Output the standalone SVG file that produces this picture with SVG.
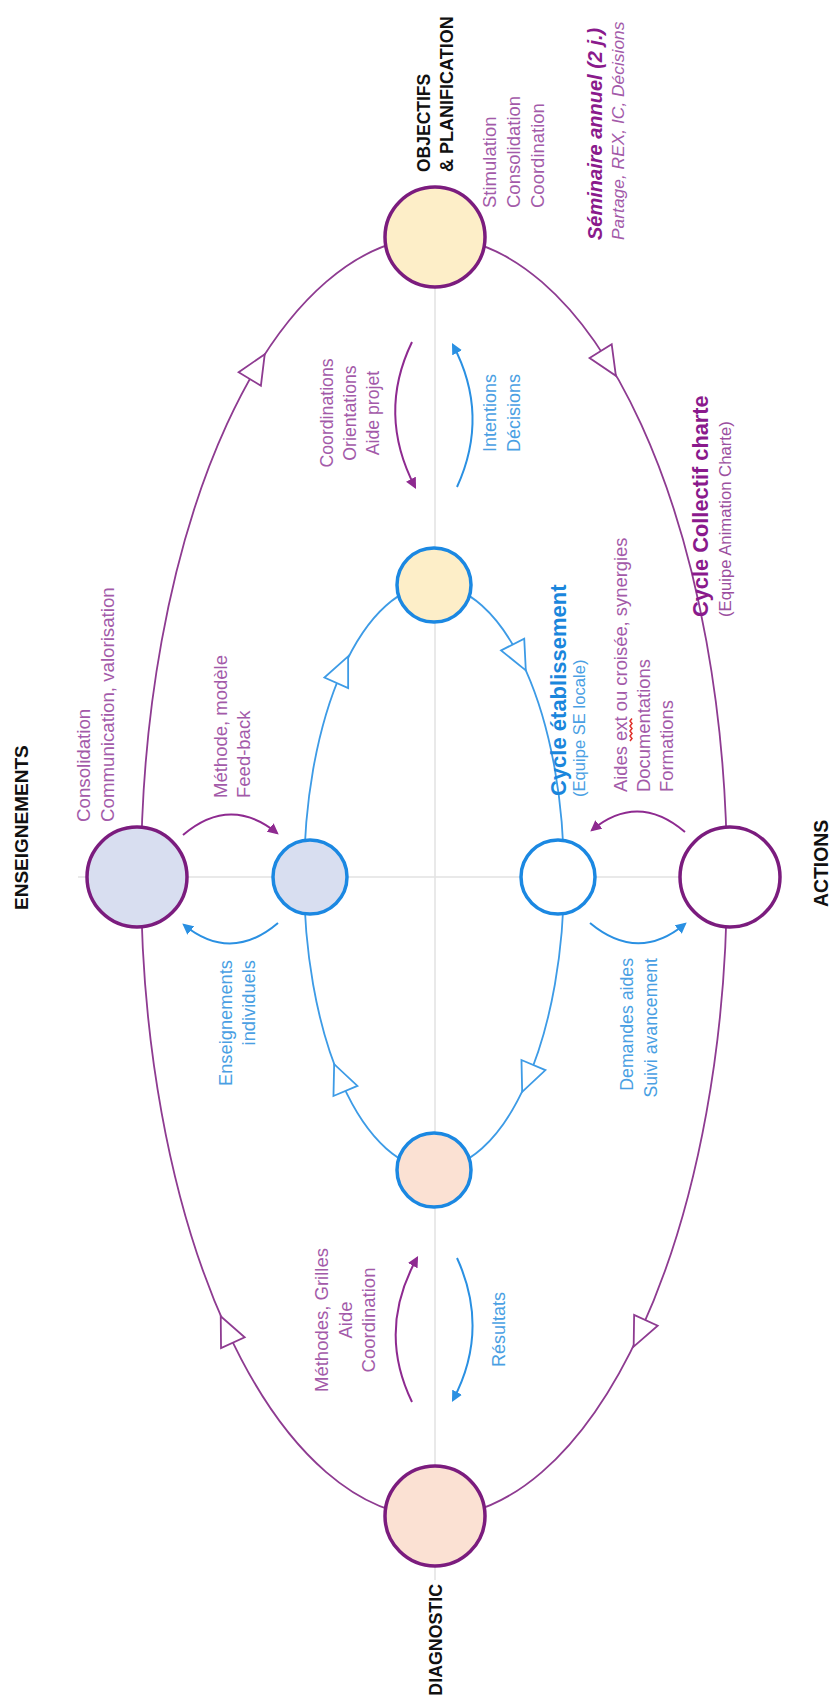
<svg xmlns="http://www.w3.org/2000/svg" width="830" height="1702" viewBox="0 0 830 1702">
<style>
text{font-family:"Liberation Sans",Arial,sans-serif}
.lbl{font-weight:bold;fill:#111}
.pt{fill:#a35aa9}
.bt{fill:#4a9fe3}
.axis{stroke:#e2e2e2;stroke-width:1.5;fill:none}
.oell{fill:none;stroke:#8e3b91;stroke-width:1.8}
.iell{fill:none;stroke:#3d9be6;stroke-width:1.8}
.otri{fill:#fff;stroke:#8e3b91;stroke-width:1.8}
.itri{fill:#fff;stroke:#3d9be6;stroke-width:1.8}
.pa{fill:none;stroke:#8e2a90;stroke-width:2;marker-end:url(#hp)}
.ba{fill:none;stroke:#2a90e2;stroke-width:2;marker-end:url(#hb)}
.oc{stroke:#7b1c7e;stroke-width:3.5}
.ic{stroke:#1b88e2;stroke-width:3.5}
</style>
<defs>
<marker id="hp" viewBox="0 0 10 10" refX="8" refY="5" markerWidth="11" markerHeight="11" markerUnits="userSpaceOnUse" orient="auto"><path d="M0,0 L10,5 L0,10 z" fill="#8e2a90"/></marker>
<marker id="hb" viewBox="0 0 10 10" refX="8" refY="5" markerWidth="11" markerHeight="11" markerUnits="userSpaceOnUse" orient="auto"><path d="M0,0 L10,5 L0,10 z" fill="#2a90e2"/></marker>
<polygon id="tri" points="15,0 -14,-13 -14,13"/>
</defs>
<rect width="830" height="1702" fill="#fff"/>
<g id="axes">
<line class="axis" x1="78" y1="877" x2="682" y2="877"/>
<line class="axis" x1="435" y1="237" x2="435" y2="1580"/>
</g>
<g id="connectors">
<ellipse class="oell" cx="434" cy="877" rx="293" ry="640"/>
<ellipse class="iell" cx="434" cy="877" rx="130" ry="292"/>
<use href="#tri" class="otri" transform="translate(608,363) rotate(58.3)"/>
<use href="#tri" class="otri" transform="translate(640,1333) rotate(115)"/>
<use href="#tri" class="otri" transform="translate(227,1330) rotate(-114.7)"/>
<use href="#tri" class="otri" transform="translate(257,367) rotate(-58.9)"/>
<use href="#tri" class="itri" transform="translate(519,657) rotate(63)"/>
<use href="#tri" class="itri" transform="translate(528,1078) rotate(112.9)"/>
<use href="#tri" class="itri" transform="translate(340,1078) rotate(-112.9)"/>
<use href="#tri" class="itri" transform="translate(342,670) rotate(-65.9)"/>
<path class="pa" d="M412,342 Q377,414 415,487"/>
<path class="ba" d="M457,487 Q490,415 453,345"/>
<path class="pa" d="M412,1402 Q377,1330 417,1258"/>
<path class="ba" d="M457,1258 Q490,1330 453,1400"/>
<path class="pa" d="M685,832 Q638,792 592,830"/>
<path class="ba" d="M590,923 Q638,963 685,924"/>
<path class="pa" d="M183,835 Q230,795 277,833"/>
<path class="ba" d="M278,923 Q231,963 184,925"/>
</g>
<g id="objectifs">
<circle class="oc" cx="435" cy="237" r="50" fill="#fdeec8"/>
<text class="lbl" font-size="17.5" transform="translate(430,172) rotate(-90)">OBJECTIFS</text>
<text class="lbl" font-size="18" transform="translate(453,172) rotate(-90)">&amp; PLANIFICATION</text>
<text class="pt" font-size="18.5" transform="translate(496,208) rotate(-90)">Stimulation</text>
<text class="pt" font-size="18.5" transform="translate(520,208) rotate(-90)">Consolidation</text>
<text class="pt" font-size="18.5" transform="translate(544,208) rotate(-90)">Coordination</text>
<text font-size="20" font-weight="bold" font-style="italic" fill="#8a1a8c" transform="translate(602,240) rotate(-90)">Séminaire annuel (2 j.)</text>
<text class="pt" font-size="17.4" font-style="italic" transform="translate(624,240) rotate(-90)">Partage, REX, IC, Décisions</text>
</g>
<g id="actions">
<circle class="oc" cx="730" cy="877" r="50" fill="#fff"/>
<text class="lbl" font-size="19.4" transform="translate(828,907) rotate(-90)">ACTIONS</text>
</g>
<g id="diagnostic">
<circle class="oc" cx="435" cy="1516" r="50" fill="#fbe1d3"/>
<text class="lbl" font-size="17.8" text-anchor="end" transform="translate(442,1584) rotate(-90)">DIAGNOSTIC</text>
</g>
<g id="enseignements">
<circle class="oc" cx="137" cy="877" r="50" fill="#d8def0"/>
<text class="lbl" font-size="19" transform="translate(28,910) rotate(-90)">ENSEIGNEMENTS</text>
<text class="pt" font-size="18.7" transform="translate(90,822) rotate(-90)">Consolidation</text>
<text class="pt" font-size="18.7" transform="translate(114,822) rotate(-90)">Communication, valorisation</text>
</g>
<g id="inner-top">
<circle class="ic" cx="434" cy="585" r="37" fill="#fdeec8"/>
</g>
<g id="inner-right">
<circle class="ic" cx="558" cy="877" r="37" fill="#fff"/>
</g>
<g id="inner-bottom">
<circle class="ic" cx="434" cy="1170" r="37" fill="#fbe1d3"/>
</g>
<g id="inner-left">
<circle class="ic" cx="310" cy="877" r="37" fill="#d8def0"/>
</g>
<g id="labels">
<text class="pt" font-size="17.7" text-anchor="middle" transform="translate(333,413) rotate(-90)">Coordinations</text>
<text class="pt" font-size="17.7" text-anchor="middle" transform="translate(356,413) rotate(-90)">Orientations</text>
<text class="pt" font-size="17.7" text-anchor="middle" transform="translate(379,413) rotate(-90)">Aide projet</text>
<text class="bt" font-size="18" transform="translate(496,452) rotate(-90)">Intentions</text>
<text class="bt" font-size="18" transform="translate(520,452) rotate(-90)">Décisions</text>
<text class="pt" font-size="18.5" transform="translate(227,798) rotate(-90)">Méthode, modèle</text>
<text class="pt" font-size="18.5" transform="translate(250,798) rotate(-90)">Feed-back</text>
<text class="bt" font-size="18.3" text-anchor="end" transform="translate(232,960) rotate(-90)">Enseignements</text>
<text class="bt" font-size="18.3" text-anchor="end" transform="translate(255,960) rotate(-90)">individuels</text>
<text class="bt" font-size="17.7" text-anchor="end" transform="translate(633,958) rotate(-90)">Demandes aides</text>
<text class="bt" font-size="17.7" text-anchor="end" transform="translate(657,958) rotate(-90)">Suivi avancement</text>
<text class="pt" font-size="18.4" transform="translate(627,792) rotate(-90)">Aides ext ou croisée, synergies</text>
<path d="M630,741 l2,-2.5 l-2,-2.5 l2,-2.5 l-2,-2.5 l2,-2.5 l-2,-2.5 l2,-2.5 l-2,-2.5 l2,-2.5" fill="none" stroke="#e0302a" stroke-width="1.5"/>
<text class="pt" font-size="18.4" transform="translate(650,792) rotate(-90)">Documentations</text>
<text class="pt" font-size="18.4" transform="translate(673,792) rotate(-90)">Formations</text>
<text class="pt" font-size="18.5" text-anchor="middle" transform="translate(328,1320) rotate(-90)">Méthodes, Grilles</text>
<text class="pt" font-size="18.5" text-anchor="middle" transform="translate(352,1320) rotate(-90)">Aide</text>
<text class="pt" font-size="18.5" text-anchor="middle" transform="translate(375,1320) rotate(-90)">Coordination</text>
<text class="bt" font-size="18" transform="translate(505,1367) rotate(-90)">Résultats</text>
<text font-size="22" font-weight="bold" fill="#1a86dc" transform="translate(566,796) rotate(-90)">Cycle établissement</text>
<text font-size="16.6" fill="#4a9fe3" transform="translate(585,797) rotate(-90)">(Equipe SE locale)</text>
<text font-size="21.8" font-weight="bold" fill="#8a1a8c" transform="translate(708,617) rotate(-90)">Cycle Collectif charte</text>
<text font-size="16.7" fill="#9b4fa0" transform="translate(731,617) rotate(-90)">(Equipe Animation Charte)</text>
</g>
</svg>
